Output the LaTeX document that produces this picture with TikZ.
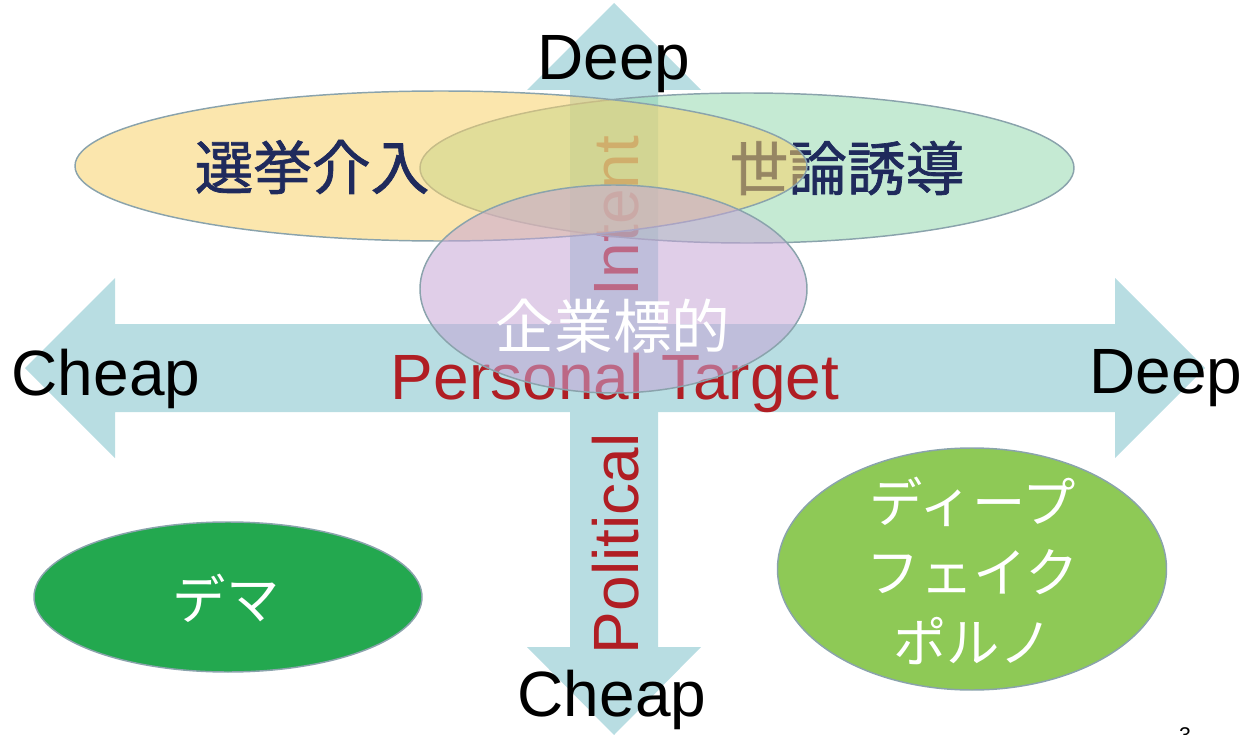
\documentclass[tikz,border=0pt]{standalone}
\usepackage{fontspec}
\setmainfont{Liberation Sans}
\newfontfamily\jp{Noto Sans CJK JP}
\newfontfamily\jpb[FakeBold=1.2]{Noto Sans CJK JP}
\usetikzlibrary{shapes.geometric}
\definecolor{arrowc}{HTML}{B8DDE2}
\definecolor{edgec}{HTML}{8AA3AC}
\definecolor{redc}{HTML}{B01E24}
\definecolor{navyc}{HTML}{1F2A5C}
\definecolor{yellowc}{HTML}{F8D26A}
\definecolor{mintc}{HTML}{96D9AE}
\definecolor{purplec}{HTML}{C6A6D6}
\definecolor{demac}{HTML}{23A84F}
\definecolor{fakec}{HTML}{8EC956}
\begin{document}
\begin{tikzpicture}[x=0.75pt,y=-0.75pt,
  axislabel/.style={font=\fontsize{48}{58}\selectfont, text=black, inner sep=0},
  redlabel/.style={font=\fontsize{48}{58}\selectfont, text=redc, inner sep=0},
  blob/.style={ellipse, draw=edgec, line width=1.1pt, inner sep=0},
  softblob/.style={blob, fill opacity=0.55, draw opacity=1},
  jplabel/.style={font=\jpb\fontsize{44}{52.5}\selectfont, inner sep=0, align=center},
  jpwhite/.style={font=\jp\fontsize{40}{52.5}\selectfont, inner sep=0, align=center, text=white}]
\useasboundingbox (0,0) rectangle (1258,735);
% axes (block arrows)
\fill[arrowc] (25,368) -- (115,278) -- (115,324) -- (1115,324) -- (1115,278)
  -- (1205,368) -- (1115,458) -- (1115,412) -- (115,412) -- (115,458) -- cycle;
\fill[arrowc] (614,3) -- (701,90) -- (658,90) -- (658,647) -- (701,647)
  -- (614,735) -- (527,647) -- (570,647) -- (570,90) -- (527,90) -- cycle;
% axis captions lying under the ellipses
\node[redlabel, rotate=90, anchor=base] (intent) at (638,216) {Intent};
\node[redlabel, anchor=base] (personal) at (615,399) {Personal Target};
\node[redlabel, rotate=90, anchor=base] (political) at (638,544) {Political};
% upper ellipses
\node[softblob, fill=mintc, minimum width=490.5pt, minimum height=112.5pt] (seron) at (747,168) {};
\node[jplabel, text=navyc] (seronT) at (847,168) {世論誘導};
\node[softblob, fill=yellowc, minimum width=549pt, minimum height=112.5pt] (senkyo) at (441,166) {};
\node[jplabel, text=navyc] (senkyoT) at (312,167) {選挙介入};
\node[softblob, fill=purplec, minimum width=290.25pt, minimum height=156pt] (kigyo) at (613.5,289) {};
\node[jplabel, font=\jp\fontsize{44}{52.5}\selectfont, text=white] (kigyoT) at (613,326) {企業標的};
% lower ellipses
\node[blob, fill=demac, minimum width=291pt, minimum height=112.5pt] (dema) at (228,597) {};
\node[jpwhite] (demaT) at (226,598) {デマ};
\node[blob, fill=fakec, minimum width=291.75pt, minimum height=181.5pt] (fake) at (972,569) {};
\node[jpwhite] (fakeT) at (973,571) {ディープ\\フェイク\\ポルノ};
% axis end labels
\node[axislabel, anchor=base] (deepTop) at (614,80) {Deep};
\node[axislabel, anchor=base] (cheapLeft) at (106,395) {Cheap};
\node[axislabel, anchor=base] (deepRight) at (1166,393) {Deep};
\node[axislabel, anchor=base] (cheapBottom) at (612,716) {Cheap};
% page number (cut by the lower edge)
\node[font=\fontsize{16}{19}\selectfont, anchor=north, inner sep=0] (pagenum) at (1185,727) {3};
\end{tikzpicture}
\end{document}
